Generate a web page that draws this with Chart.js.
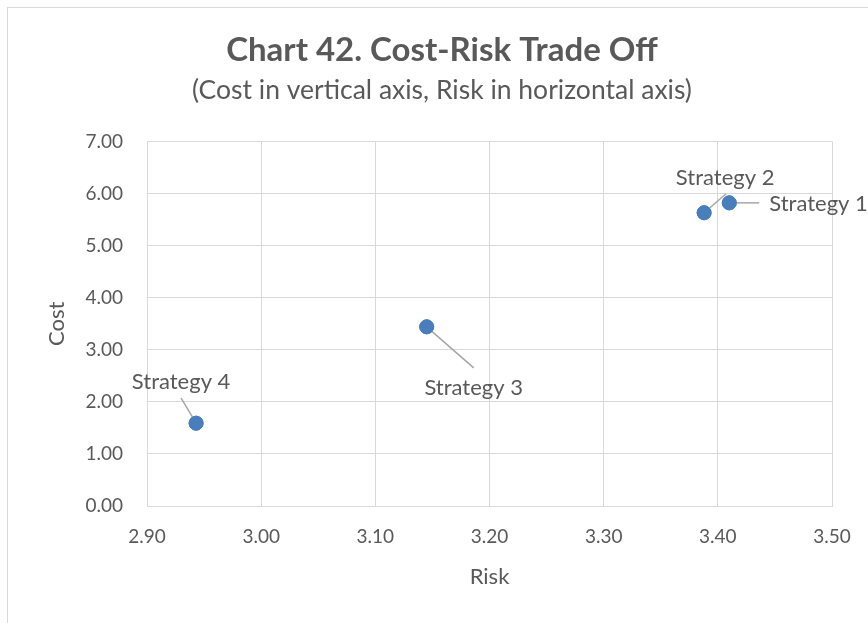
<!DOCTYPE html>
<html>
<head>
<meta charset="utf-8">
<script src="https://cdn.jsdelivr.net/npm/chart.js@4.4.1/dist/chart.umd.min.js"></script>
<style>
  html, body { margin: 0; padding: 0; background: #fff; }
  #wrap { position: relative; width: 868px; height: 623px; overflow: hidden; }
  #frame { position: absolute; left: 7px; top: 7px; width: 900px; height: 700px;
           border-left: 1px solid #d9d9d9; border-top: 1px solid #d9d9d9; }
  #chart { position: absolute; left: 0; top: 0; }
</style>
</head>
<body>
<div id="wrap">
  <div id="frame"></div>
  <canvas id="chart" width="868" height="623"></canvas>
</div>
<script>
// data
const strategies = ['Strategy 1', 'Strategy 2', 'Strategy 3', 'Strategy 4'];
const riskValues = [3.41, 3.388, 3.145, 2.943];
const costValues = [5.82, 5.63, 3.44, 1.59];

const xTicks = [2.9, 3.0, 3.1, 3.2, 3.3, 3.4, 3.5];
const yTicks = [0, 1, 2, 3, 4, 5, 6, 7];

const FONT = 'Lato, "Open Sans", sans-serif';
const TEXT = '#595959';
const GRID = '#d9d9d9';

// where each data label sits relative to its point (text offset + leader line end)
const labelPlace = [
    { dx: 40, dy: 1, align: 'left', lx: 30, ly: 0 },
    { dx: 21, dy: -35, align: 'center', lx: 22, ly: -19 },
    { dx: 47, dy: 61, align: 'center', lx: 47, ly: 41 },
    { dx: -15, dy: -41, align: 'center', lx: -15, ly: -25 }
];

const leaderLabels = {
    id: 'leaderLabels',
    afterDatasetsDraw(chart) {
        const ctx = chart.ctx;
        const meta = chart.getDatasetMeta(0);
        ctx.save();
        meta.data.forEach((pt, i) => {
            const p = labelPlace[i];
            ctx.strokeStyle = '#a6a6a6';
            ctx.lineWidth = 1.5;
            ctx.beginPath();
            ctx.moveTo(pt.x, pt.y);
            ctx.lineTo(pt.x + p.lx, pt.y + p.ly);
            ctx.stroke();
            ctx.font = '22px ' + FONT;
            ctx.fillStyle = TEXT;
            ctx.textAlign = p.align;
            ctx.textBaseline = 'middle';
            ctx.fillText(strategies[i], pt.x + p.dx, pt.y + p.dy);
        });
        ctx.restore();
        // points back on top of the leader lines
        meta.data.forEach(pt => pt.draw(ctx, chart.chartArea));
    }
};

new Chart(document.getElementById('chart').getContext('2d'), {
    type: 'scatter',
    data: {
        datasets: [{
            label: 'Cost-Risk',
            data: riskValues.map((r, i) => ({ x: r, y: costValues[i] })),
            backgroundColor: '#4a7ebb',
            borderColor: '#4a7ebb',
            pointRadius: 7,
            pointHoverRadius: 7
        }]
    },
    options: {
        responsive: false,
        animation: false,
        devicePixelRatio: 1,
        layout: { padding: { left: 16, right: 0, top: 0, bottom: 0 } },
        plugins: {
            legend: { display: false },
            tooltip: { enabled: false },
            title: {
                display: true,
                text: 'Chart 42. Cost-Risk Trade Off',
                color: TEXT,
                font: { family: FONT, size: 33, weight: 'bold', lineHeight: 1.2 },
                padding: { top: 31, bottom: 0 }
            },
            subtitle: {
                display: true,
                text: '(Cost in vertical axis, Risk in horizontal axis)',
                color: TEXT,
                font: { family: FONT, size: 26.5, lineHeight: 1.2 },
                padding: { top: 4, bottom: 35 }
            }
        },
        scales: {
            x: {
                type: 'linear',
                min: 2.9,
                max: 3.5,
                afterBuildTicks: s => { s.ticks = xTicks.map(v => ({ value: v })); },
                afterFit: s => { s.height = 117; s.paddingLeft = 0; s.paddingRight = 0; },
                grid: { color: GRID, lineWidth: 1, drawTicks: false },
                border: { color: GRID, width: 1 },
                ticks: {
                    color: TEXT,
                    font: { family: FONT, size: 19 },
                    padding: 19,
                    maxRotation: 0,
                    callback: v => Number(v).toFixed(2)
                },
                title: {
                    display: true,
                    text: 'Risk',
                    color: TEXT,
                    font: { family: FONT, size: 22, lineHeight: 1.2 },
                    padding: { top: 0, bottom: 33 }
                }
            },
            y: {
                type: 'linear',
                min: 0,
                max: 7,
                afterBuildTicks: s => { s.ticks = yTicks.map(v => ({ value: v })); },
                afterFit: s => { s.width = 131; s.paddingTop = 0; s.paddingBottom = 0; },
                grid: { color: GRID, lineWidth: 1, drawTicks: false },
                border: { color: GRID, width: 1 },
                ticks: {
                    color: TEXT,
                    font: { family: FONT, size: 19 },
                    padding: 24,
                    callback: v => Number(v).toFixed(2)
                },
                title: {
                    display: true,
                    text: 'Cost',
                    color: TEXT,
                    font: { family: FONT, size: 22, lineHeight: 1.2 },
                    padding: { top: 28, bottom: 0 }
                }
            },
            // empty right-hand strip so the plot ends where the reference does
            spacer: {
                type: 'linear',
                position: 'right',
                display: true,
                afterFit: s => { s.width = 36; s.paddingTop = 0; s.paddingBottom = 0; },
                grid: { display: false },
                border: { display: false },
                ticks: { display: false }
            }
        }
    },
    plugins: [leaderLabels]
});
</script>
</body>
</html>
